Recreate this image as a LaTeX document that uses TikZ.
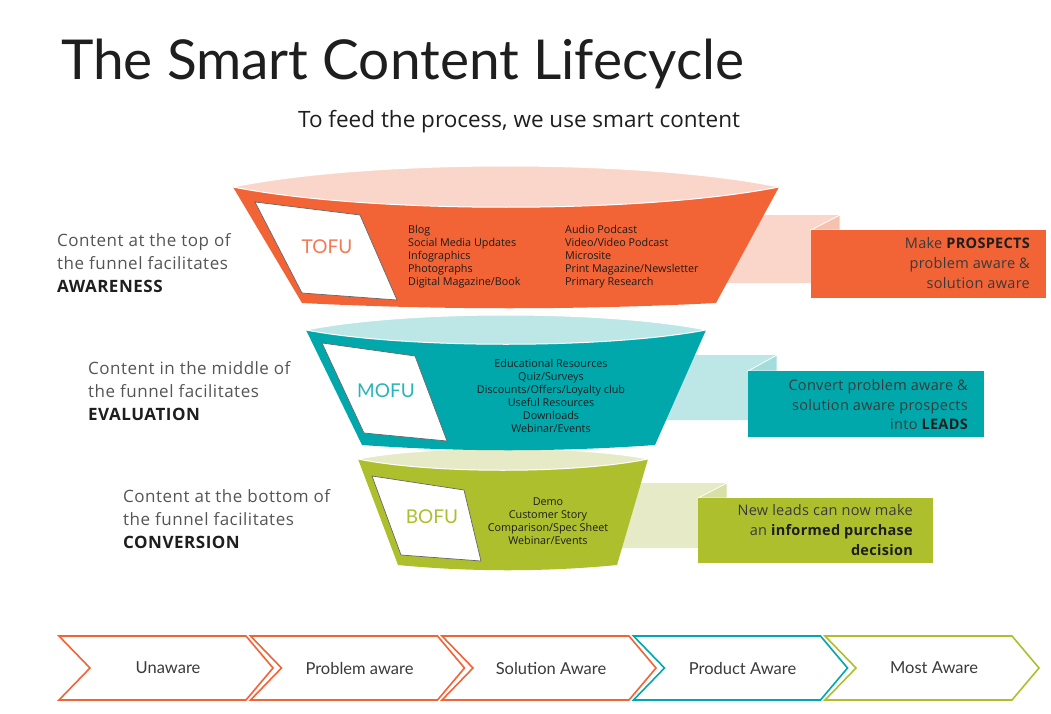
\documentclass[tikz,border=0pt]{standalone}
\usepackage{fontspec}
\setmainfont{Lato}
\newfontfamily\osans{Open Sans}
\definecolor{orng}{HTML}{F26336}
\definecolor{orngL}{HTML}{FAD6CA}
\definecolor{orngM}{HTML}{F6C2B0}
\definecolor{tealc}{HTML}{00A8AC}
\definecolor{tealL}{HTML}{BDE6E7}
\definecolor{tealM}{HTML}{A3DCDD}
\definecolor{grn}{HTML}{AEBF2E}
\definecolor{grnL}{HTML}{E6EAC6}
\definecolor{grnM}{HTML}{D8E0A6}
\definecolor{txtgray}{HTML}{555555}
\definecolor{txtdark}{HTML}{1E1E1E}
\definecolor{listc}{HTML}{1C1C1C}
\definecolor{callc}{HTML}{3A3A3A}
\tikzset{
  lefttxt/.style={anchor=north west, align=left, inner sep=0, text=txtgray,
    font=\osans\addfontfeature{LetterSpace=3}\fontsize{17}{23}\selectfont},
  listtxt/.style={inner sep=0, text=listc, font=\osans\fontsize{10.8}{13}\selectfont},
  calltxt/.style={anchor=north east, align=right, inner sep=0, text=callc,
    font=\osans\addfontfeature{LetterSpace=2}\fontsize{14.5}{19.8}\selectfont},
  cardbox/.style={fill=white, draw=black!60, line width=0.7},
  lensbox/.style={draw=white, line width=1},
  foldtri/.style={draw=white, line width=0.8},
  funlbl/.style={inner sep=0, font=\fontsize{19}{22}\selectfont},
  chevbox/.style={line width=1.6, fill=white, line join=miter},
  chevlbl/.style={inner sep=0, text=callc, font=\fontsize{16.5}{19}\selectfont}
}
\begin{document}
\begin{tikzpicture}[x=1pt,y=-1pt]
\useasboundingbox (0,0) rectangle (1051,714);
% title
\node[anchor=base west, inner sep=0, text=txtdark, font=\fontsize{55}{60}\selectfont] (title) at (61,80) {The Smart Content Lifecycle};
\node[anchor=base west, inner sep=0, text=txtdark, font=\osans\fontsize{22.5}{26}\selectfont] (sub) at (298,128) {To feed the process, we use smart content};

% left texts
\node[lefttxt] (ltofu) at (57,233) {Content at the top of\\the funnel facilitates\\{\color{txtdark}\bfseries AWARENESS}};
\node[lefttxt] (lmofu) at (88,361) {Content in the middle of\\the funnel facilitates\\{\color{txtdark}\bfseries EVALUATION}};
\node[lefttxt] (lbofu) at (123,489) {Content at the bottom of\\the funnel facilitates\\{\color{txtdark}\bfseries CONVERSION}};

% ---------- callout bands (behind funnels) ----------
\fill[orngL] (700,215) -- (840,215) -- (811,230) -- (811,283) -- (700,283) -- cycle;
\filldraw[fill=orngM, foldtri] (840,215) -- (840,230) -- (811,230) -- cycle;
\fill[tealL] (650,355) -- (777,355) -- (748,371) -- (748,420) -- (650,420) -- cycle;
\filldraw[fill=tealM, foldtri] (777,355) -- (777,371) -- (748,371) -- cycle;
\fill[grnL] (605,483) -- (727,483) -- (698,498) -- (698,548) -- (605,548) -- cycle;
\filldraw[fill=grnM, foldtri] (727,483) -- (727,498) -- (698,498) -- cycle;

% ---------- BOFU funnel ----------
\fill[grn] (358,459) -- (398,565) .. controls (470,572) and (545,572) .. (617,565) -- (648,459)
  .. controls (575,474) and (431,474) .. cycle;
\filldraw[fill=grnL, lensbox] (358,459) .. controls (431,445) and (575,445) .. (648,459)
  .. controls (575,474) and (431,474) .. cycle;
\filldraw[cardbox] (372,476) -- (464,490) -- (481,561) -- (401,555) -- cycle;
\node[funlbl, text=grn] (bofu) at (432,517) {BOFU};
\node[listtxt, align=center, anchor=north] (lbo) at (548,497.5) {Demo\\Customer Story\\Comparison/Spec Sheet\\Webinar/Events};

% ---------- MOFU funnel ----------
\fill[tealc] (306,330) -- (362,445) .. controls (460,452) and (557,452) .. (655,445) -- (706,330)
  .. controls (606,349) and (406,349) .. cycle;
\filldraw[fill=tealL, lensbox] (306,330) .. controls (406,310) and (606,310) .. (706,330)
  .. controls (606,349) and (406,349) .. cycle;
\filldraw[cardbox] (322,343) -- (415,356) -- (447,441) -- (364,433) -- cycle;
\node[funlbl, text=tealc!85!white] (mofu) at (386,391) {MOFU};
\node[listtxt, align=center, anchor=north] (lmo) at (551,359.5) {Educational Resources\\Quiz/Surveys\\Discounts/Offers/Loyalty club\\Useful Resources\\Downloads\\Webinar/Events};

% ---------- TOFU funnel ----------
\fill[orng] (233,187) -- (302,303) .. controls (440,310) and (578,310) .. (716,303) -- (779,187)
  .. controls (642,214) and (370,214) .. cycle;
\filldraw[fill=orngL, lensbox] (233,187) .. controls (370,159) and (642,159) .. (779,187)
  .. controls (642,214) and (370,214) .. cycle;
\filldraw[cardbox] (255,202) -- (360,215) -- (397,300) -- (302,293) -- cycle;
\node[funlbl, text=orng!85!white] (tofu) at (327,247) {TOFU};
\node[listtxt, align=left, anchor=north west] (lto1) at (408,225.5) {Blog\\Social Media Updates\\Infographics\\Photographs\\Digital Magazine/Book};
\node[listtxt, align=left, anchor=north west] (lto2) at (565,225.5) {Audio Podcast\\Video/Video Podcast\\Microsite\\Print Magazine/Newsletter\\Primary Research};

% ---------- callout boxes ----------
\fill[orng] (811,230) rectangle (1046,298);
\node[calltxt] (cto) at (1030,237.5) {Make {\color{txtdark}\bfseries PROSPECTS}\\problem aware \&\\solution aware};
\fill[tealc] (748,371) rectangle (984,437);
\node[calltxt] (cmo) at (968,379) {Convert problem aware \&\\solution aware prospects\\into {\color{txtdark}\bfseries LEADS}};
\fill[grn] (698,498) rectangle (933,563);
\node[calltxt] (cbo) at (913,504.5) {New leads can now make\\an {\color{txtdark}\bfseries informed purchase}\\{\color{txtdark}\bfseries decision}};

% ---------- chevrons ----------
\foreach \i/\lbl/\col in {0/Unaware/orng, 1/Problem aware/orng, 2/Solution Aware/orng, 3/Product Aware/tealc, 4/Most Aware/grn}{
  \pgfmathsetmacro{\L}{59+191.5*\i}
  \draw[chevbox, draw=\col] (\L,636) -- (\L+187,636) -- (\L+214,668) -- (\L+187,700) -- (\L,700) -- (\L+31,668) -- cycle;
  \node[chevlbl] (chev\i) at (\L+109,668) {\lbl};
}
\end{tikzpicture}
\end{document}
